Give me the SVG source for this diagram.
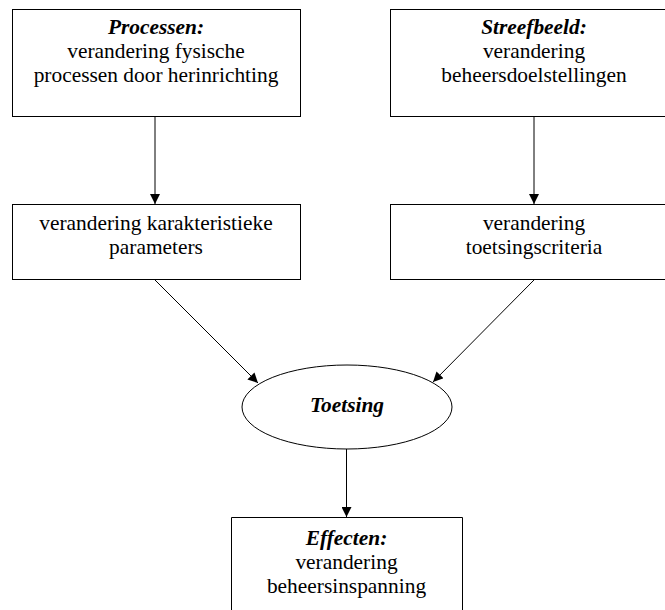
<svg xmlns="http://www.w3.org/2000/svg" width="665" height="610" viewBox="0 0 665 610">
<style>
.box{fill:#fff;stroke:#000;stroke-width:1}
.t{font-family:'Liberation Serif','DejaVu Serif','Times New Roman',serif;font-size:21.4px;fill:#000;text-anchor:middle}
.b{font-weight:bold;font-style:italic}
.c{stroke:#000;stroke-width:1;fill:none}
</style>
<defs>
<marker id="ah" viewBox="0 0 10 10" refX="10" refY="5" markerWidth="10" markerHeight="10" markerUnits="userSpaceOnUse" orient="auto">
<path d="M0,0 L10,5 L0,10 z" fill="#000"/>
</marker>
</defs>
<rect width="665" height="610" fill="#fff"/>
<g id="connectors">
<line class="c" x1="155" y1="117" x2="155" y2="204" marker-end="url(#ah)"/>
<line class="c" x1="534" y1="117" x2="534" y2="204" marker-end="url(#ah)"/>
<line class="c" x1="155" y1="280" x2="258" y2="383" marker-end="url(#ah)"/>
<line class="c" x1="534" y1="280" x2="433" y2="382" marker-end="url(#ah)"/>
<line class="c" x1="346.5" y1="449" x2="346.5" y2="517" marker-end="url(#ah)"/>
</g>
<g id="processen">
<rect class="box" x="12.5" y="9.5" width="288" height="107"/>
<text class="t b" x="156" y="34" font-family="Liberation Serif, serif">Processen:</text>
<text class="t" x="156" y="58" font-family="Liberation Serif, serif">verandering fysische</text>
<text class="t" x="156" y="82" font-family="Liberation Serif, serif">processen door herinrichting</text>
</g>
<g id="streefbeeld">
<rect class="box" x="390.5" y="9.5" width="288" height="107"/>
<text class="t b" x="534" y="34" font-family="Liberation Serif, serif">Streefbeeld:</text>
<text class="t" x="534" y="58" font-family="Liberation Serif, serif">verandering</text>
<text class="t" x="534" y="82" font-family="Liberation Serif, serif">beheersdoelstellingen</text>
</g>
<g id="parameters">
<rect class="box" x="12.5" y="204.5" width="288" height="75"/>
<text class="t" x="156" y="230" font-family="Liberation Serif, serif">verandering karakteristieke</text>
<text class="t" x="156" y="254" font-family="Liberation Serif, serif">parameters</text>
</g>
<g id="criteria">
<rect class="box" x="390.5" y="204.5" width="288" height="75"/>
<text class="t" x="534" y="230" font-family="Liberation Serif, serif">verandering</text>
<text class="t" x="534" y="254" font-family="Liberation Serif, serif">toetsingscriteria</text>
</g>
<g id="toetsing">
<ellipse class="box" cx="347" cy="407" rx="105" ry="42"/>
<text class="t b" x="347" y="412" font-family="Liberation Serif, serif">Toetsing</text>
</g>
<g id="effecten">
<path class="c" d="M231.5,620 V517.5 H462.5 V620" fill="#fff"/>
<text class="t b" x="346.5" y="545" font-family="Liberation Serif, serif">Effecten:</text>
<text class="t" x="346.5" y="569" font-family="Liberation Serif, serif">verandering</text>
<text class="t" x="346.5" y="593" font-family="Liberation Serif, serif">beheersinspanning</text>
</g>
</svg>
